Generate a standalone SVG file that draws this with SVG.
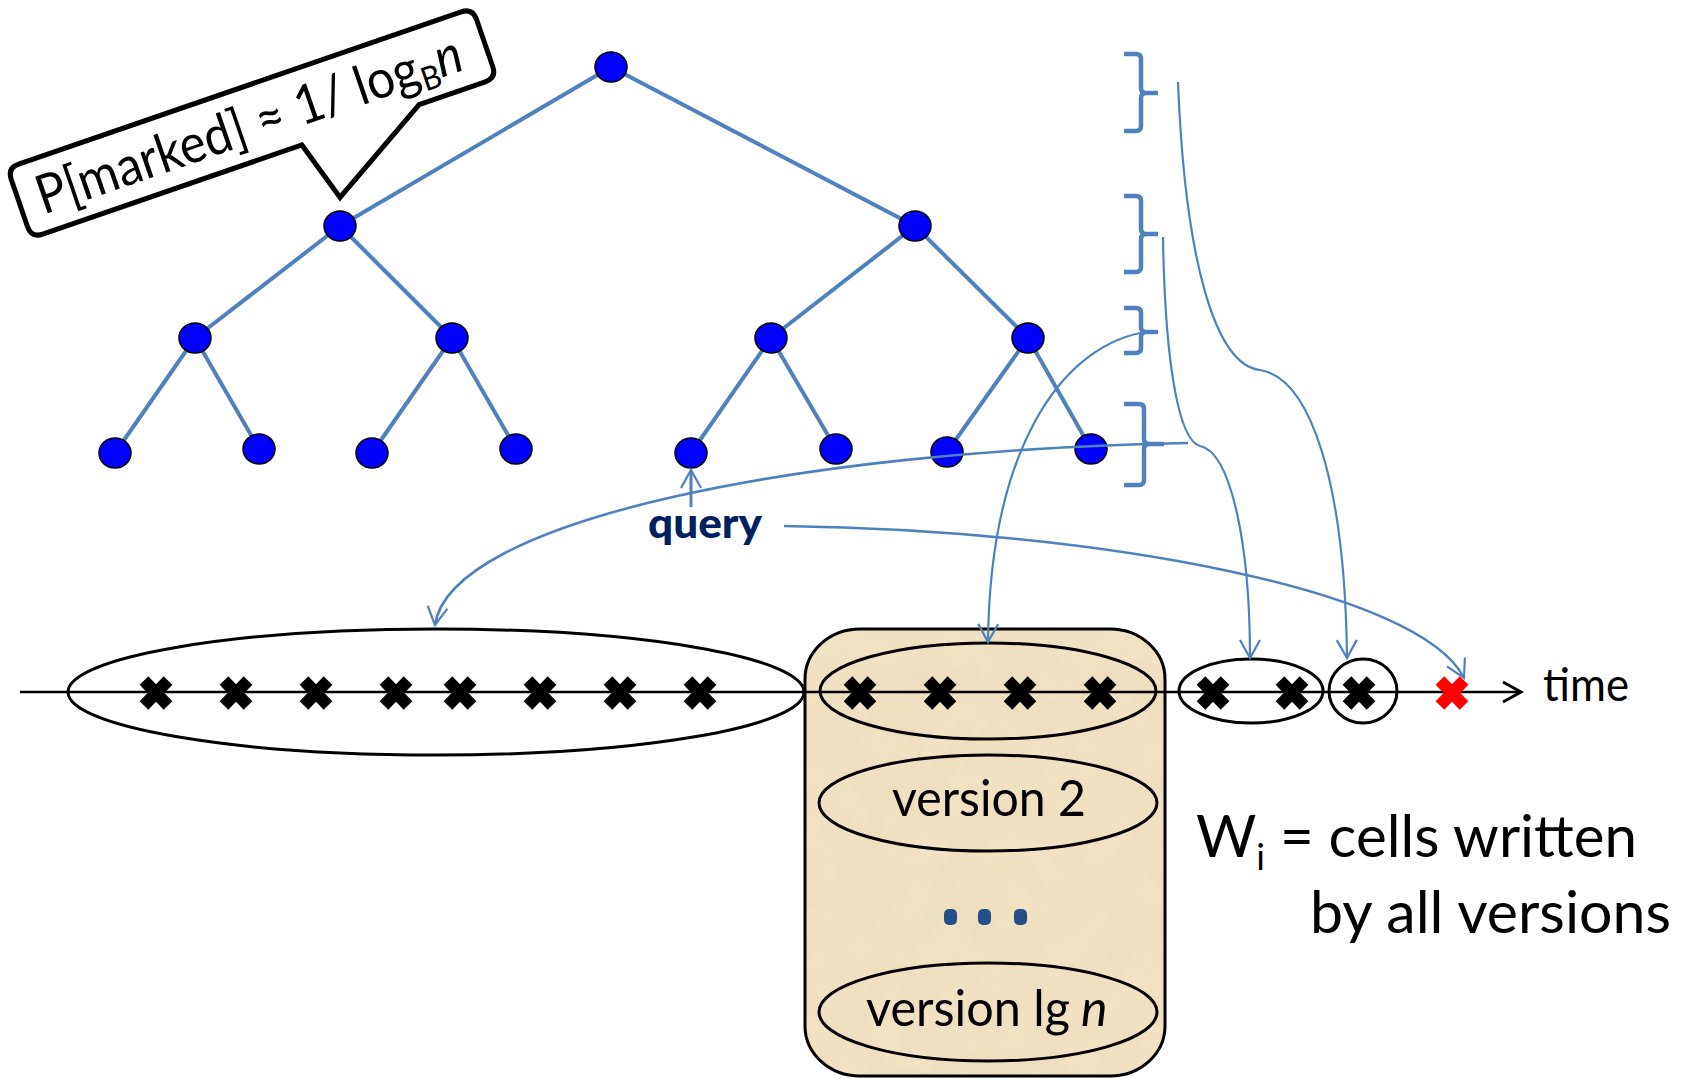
<svg xmlns="http://www.w3.org/2000/svg" xmlns:xlink="http://www.w3.org/1999/xlink" width="1686" height="1079" viewBox="0 0 1686 1079">
<style>
.edge{stroke:#4F81BD;stroke-width:4;fill:none}
.node{fill:#0000FF;stroke:#000;stroke-width:1.5}
.brace{stroke:#4F81BD;stroke-width:4.5;fill:none}
.conn{stroke:#4F81BD;stroke-width:2.2;fill:none;marker-end:url(#arrB)}
.ell{fill:none;stroke:#000;stroke-width:3}
.txt{font-family:Lato,"Liberation Sans",sans-serif;fill:#000}
</style>
<defs>
<marker id="arrB" markerUnits="userSpaceOnUse" viewBox="-20 -12 22 24" refX="0" refY="0" markerWidth="22" markerHeight="24" orient="auto" overflow="visible">
<path d="M-18,-10 L0,0 L-18,10" fill="none" stroke="#4F81BD" stroke-width="2.2"/>
</marker>
<marker id="arrK" markerUnits="userSpaceOnUse" viewBox="-20 -12 22 24" refX="0" refY="0" markerWidth="22" markerHeight="24" orient="auto" overflow="visible">
<path d="M-18,-10 L0,0 L-18,10" fill="none" stroke="#000" stroke-width="3"/>
</marker>
<path id="xm" d="M-12,-12.5 L12,12.5 M12,-12.5 L-12,12.5" stroke="currentColor" stroke-width="12" fill="none"/>
<filter id="parch" x="0" y="0" width="100%" height="100%">
<feTurbulence type="fractalNoise" baseFrequency="0.03" numOctaves="4" seed="7" result="n"/>
<feColorMatrix in="n" type="matrix" values="0 0 0 0 0.80 0 0 0 0 0.68 0 0 0 0 0.48 0.9 0 0 0 -0.33" result="spots"/>
<feComposite in="spots" in2="SourceGraphic" operator="in" result="s2"/>
<feMerge><feMergeNode in="SourceGraphic"/><feMergeNode in="s2"/></feMerge>
</filter>
</defs>
<rect width="1686" height="1079" fill="#fff"/>

<g id="tree-edges">
<line class="edge" x1="611" y1="67" x2="340" y2="226"/>
<line class="edge" x1="611" y1="67" x2="915" y2="226"/>
<line class="edge" x1="340" y1="226" x2="195" y2="338"/>
<line class="edge" x1="340" y1="226" x2="452" y2="338"/>
<line class="edge" x1="915" y1="226" x2="771" y2="338"/>
<line class="edge" x1="915" y1="226" x2="1028" y2="338"/>
<line class="edge" x1="195" y1="338" x2="115" y2="453"/>
<line class="edge" x1="195" y1="338" x2="259" y2="449"/>
<line class="edge" x1="452" y1="338" x2="372" y2="453"/>
<line class="edge" x1="452" y1="338" x2="516" y2="449"/>
<line class="edge" x1="771" y1="338" x2="691" y2="453"/>
<line class="edge" x1="771" y1="338" x2="836" y2="449"/>
<line class="edge" x1="1028" y1="338" x2="947" y2="452"/>
<line class="edge" x1="1028" y1="338" x2="1091" y2="449"/>
</g>

<g id="n-root"><ellipse class="node" cx="611" cy="67" rx="16" ry="15"/></g>
<g id="n-l"><ellipse class="node" cx="340" cy="226" rx="16" ry="15"/></g>
<g id="n-r"><ellipse class="node" cx="915" cy="226" rx="16" ry="15"/></g>
<g id="n-ll"><ellipse class="node" cx="195" cy="338" rx="16" ry="15"/></g>
<g id="n-lr"><ellipse class="node" cx="452" cy="338" rx="16" ry="15"/></g>
<g id="n-rl"><ellipse class="node" cx="771" cy="338" rx="16" ry="15"/></g>
<g id="n-rr"><ellipse class="node" cx="1028" cy="338" rx="16" ry="15"/></g>
<g id="leaf1"><ellipse class="node" cx="115" cy="453" rx="16" ry="15"/></g>
<g id="leaf2"><ellipse class="node" cx="259" cy="449" rx="16" ry="15"/></g>
<g id="leaf3"><ellipse class="node" cx="372" cy="453" rx="16" ry="15"/></g>
<g id="leaf4"><ellipse class="node" cx="516" cy="449" rx="16" ry="15"/></g>
<g id="leaf5"><ellipse class="node" cx="691" cy="453" rx="16" ry="15"/></g>
<g id="leaf6"><ellipse class="node" cx="836" cy="449" rx="16" ry="15"/></g>
<g id="leaf7"><ellipse class="node" cx="947" cy="452" rx="16" ry="15"/></g>
<g id="leaf8"><ellipse class="node" cx="1091" cy="449" rx="16" ry="15"/></g>

<g id="callout" transform="translate(252,123) rotate(-19)">
<path d="M-234,-37 H234 Q246,-37 246,-25 V25 Q246,37 234,37 H164 L59,99 L40,37 H-234 Q-246,37 -246,25 V-25 Q-246,-37 -234,-37 Z" fill="#fff" stroke="#000" stroke-width="5" stroke-linejoin="miter"/>
<text class="txt" x="-227" y="19" font-size="54" textLength="447" lengthAdjust="spacingAndGlyphs">P[marked] ≈ 1/ log<tspan font-size="33" dy="8">B</tspan><tspan font-style="italic" dy="-8">n</tspan></text>
</g>

<g id="braces">
<path class="brace" d="M1124,54 H1136 Q1141,54 1141,59 V88 Q1141,93 1146,93 H1158 M1146,93 Q1141,93 1141,98 V126 Q1141,131 1136,131 H1124"/>
<path class="brace" d="M1124,196 H1136 Q1141,196 1141,201 V229 Q1141,234 1146,234 H1158 M1146,234 Q1141,234 1141,239 V267 Q1141,272 1136,272 H1124"/>
<path class="brace" d="M1124,308 H1136 Q1141,308 1141,313 V327 Q1141,332 1146,332 H1158 M1146,332 Q1141,332 1141,337 V348 Q1141,353 1136,353 H1124"/>
<path class="brace" d="M1124,404 H1139 Q1144,404 1144,409 V439 Q1144,444 1149,444 H1164 M1149,444 Q1144,444 1144,449 V480 Q1144,485 1139,485 H1124"/>
</g>

<g id="versions-box">
<rect x="805" y="629" width="360" height="447" rx="55" ry="50" fill="#F1E2C2" filter="url(#parch)"/>
<rect x="805" y="629" width="360" height="447" rx="55" ry="50" fill="none" stroke="#000" stroke-width="3"/>
<ellipse class="ell" cx="988" cy="691" rx="168" ry="48"/>
<g id="v2"><ellipse class="ell" cx="988" cy="803" rx="169" ry="48"/>
<text class="txt" x="892" y="816" font-size="50" textLength="194" lengthAdjust="spacingAndGlyphs">version 2</text></g>
<g id="dots" fill="#234F86">
<rect x="944" y="909" width="13" height="16" rx="5"/>
<rect x="978" y="909" width="13" height="16" rx="5"/>
<rect x="1014" y="909" width="13" height="16" rx="5"/>
</g>
<g id="vlg"><ellipse class="ell" cx="988" cy="1012" rx="169" ry="49"/>
<text class="txt" x="866" y="1026" font-size="50" textLength="204" lengthAdjust="spacingAndGlyphs">version lg</text>
<text class="txt" x="1081" y="1026" font-size="50" font-style="italic">n</text></g>
</g>

<g id="timeline">
<ellipse class="ell" cx="436" cy="692" rx="368" ry="63"/>
<ellipse class="ell" cx="1251" cy="691" rx="72" ry="32"/>
<ellipse class="ell" cx="1363" cy="691" rx="34" ry="32"/>
<line x1="20" y1="692" x2="1521" y2="692" stroke="#000" stroke-width="2.5" marker-end="url(#arrK)"/>
<g color="#000">
<use xlink:href="#xm" x="156" y="693"/>
<use xlink:href="#xm" x="236" y="693"/>
<use xlink:href="#xm" x="316" y="693"/>
<use xlink:href="#xm" x="396" y="693"/>
<use xlink:href="#xm" x="460" y="693"/>
<use xlink:href="#xm" x="540" y="693"/>
<use xlink:href="#xm" x="620" y="693"/>
<use xlink:href="#xm" x="700" y="693"/>
<use xlink:href="#xm" x="860" y="693"/>
<use xlink:href="#xm" x="940" y="693"/>
<use xlink:href="#xm" x="1020" y="693"/>
<use xlink:href="#xm" x="1100" y="693"/>
<use xlink:href="#xm" x="1213" y="693"/>
<use xlink:href="#xm" x="1292" y="693"/>
<use xlink:href="#xm" x="1359" y="693"/>
</g>
<use xlink:href="#xm" x="1452" y="693" color="#FF0000"/>
<text class="txt" x="1543" y="701" font-size="46" textLength="86" lengthAdjust="spacingAndGlyphs">time</text>
</g>

<g id="query">
<text x="648" y="538" font-family="Lato,'Liberation Sans',sans-serif" font-weight="900" font-size="41" fill="#002060" textLength="114" lengthAdjust="spacingAndGlyphs">query</text>
</g>

<g id="wi-label">
<text class="txt" x="1196" y="857" font-size="58" textLength="441" lengthAdjust="spacingAndGlyphs">W<tspan font-size="36" dy="13">i</tspan><tspan dy="-13"> = cells written</tspan></text>
<text class="txt" x="1310" y="933" font-size="58" textLength="361" lengthAdjust="spacingAndGlyphs">by all versions</text>
</g>

<g id="connectors">
<line x1="691" y1="507" x2="691" y2="470" stroke="#4F81BD" stroke-width="3" marker-end="url(#arrB)"/>
<path class="conn" style="stroke-width:2.6" d="M1188,443 C800,450 450,520 435,625"/>
<path class="conn" d="M1140,333 C1060,350 990,450 988,642"/>
<path class="conn" d="M1163,237 C1165,360 1178,440 1200,446 C1230,452 1250,540 1250,658"/>
<path class="conn" d="M1178,82 C1185,260 1215,365 1260,370 C1310,378 1345,480 1347,658"/>
<path class="conn" style="stroke-width:2.4" d="M784,526 C1100,530 1420,590 1464,678"/>
</g>
</svg>
